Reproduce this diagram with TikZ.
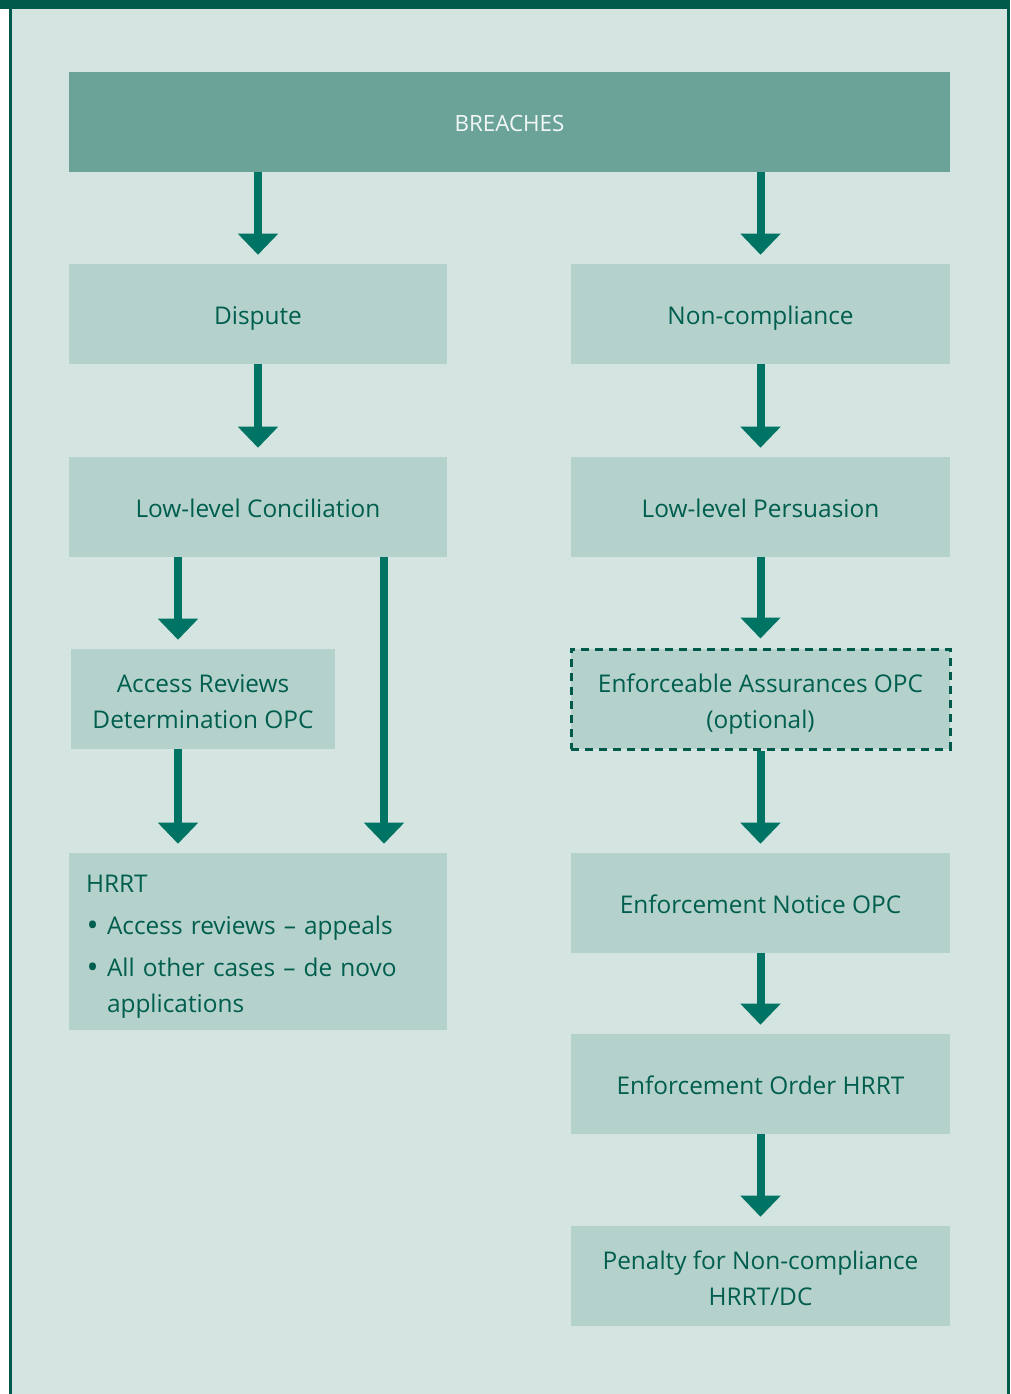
\documentclass[tikz,border=0pt]{standalone}
\usepackage{fontspec}
\setmainfont{Open Sans}
\usetikzlibrary{arrows.meta,positioning,calc}
\definecolor{panelgreen}{RGB}{212,228,224}
\definecolor{boxgreen}{RGB}{181,209,203}
\definecolor{headgreen}{RGB}{107,163,153}
\definecolor{arrowgreen}{RGB}{0,116,100}
\definecolor{textgreen}{RGB}{0,94,78}
\definecolor{framegreen}{RGB}{0,90,74}
\newcommand{\bulletrow}[1]{\makebox[15.75pt][l]{\hspace*{0.5pt}\raisebox{-1pt}{\fontsize{24}{27}\selectfont\textbullet}}#1}
\tikzset{
  stepbox/.style={fill=boxgreen,text=textgreen,minimum width=283.5pt,minimum height=75pt,
    inner sep=0pt,align=center,font=\fontsize{18.3}{27}\selectfont,text height=16pt,text depth=0pt},
  twoline/.style={text height=45.5pt,text depth=2pt},
  headbox/.style={stepbox,fill=headgreen,text=white!92!headgreen,minimum width=660.75pt,
    font=\fontsize{16.8}{27}\selectfont,text height=15pt},
  optbox/.style={draw=framegreen,line width=2.25pt,dash pattern=on 6pt off 4.5pt},
  flow/.style={draw=arrowgreen,line width=6pt,-{Triangle[width=29.25pt,length=15.75pt]},shorten >=6.75pt}
}

\begin{document}
\begin{tikzpicture}[x=0.75pt,y=-0.75pt]
% panel and frame
\fill[white] (0,0) rectangle (1010,1394);
\fill[panelgreen] (12,9) rectangle (1007,1394);
\fill[framegreen] (0,0) rectangle (1010,9);
\fill[framegreen] (9,9) rectangle (12,1394);
\fill[framegreen] (1007,9) rectangle (1010,1394);

% boxes
\node[headbox] (breaches) at (509.5,122) {BREACHES};
\node[stepbox] (dispute) at (258,314) {Dispute};
\node[stepbox,minimum width=284.25pt] (noncomp) at (760.5,314) {Non-compliance};
\node[stepbox] (concil) at (258,507) {Low-level Conciliation};
\node[stepbox,minimum width=284.25pt] (persua) at (760.5,507) {Low-level Persuasion};
\node[stepbox,twoline,minimum width=198pt] (access) at (203,699) {Access Reviews\\Determination OPC};
\node[stepbox,twoline,optbox,minimum width=284.25pt] (assur) at (760.5,699) {Enforceable Assurances OPC\\(optional)};
\node[stepbox,minimum height=132.75pt,align=left,inner xsep=12.75pt,text width=258pt,
  text height=20pt,text depth=93.2pt] (hrrt) at (258,941.5)
  {HRRT\\[4.5pt]\bulletrow{Access reviews – appeals}\\[4.5pt]\bulletrow{All other cases – de novo}\\\hspace*{15.75pt}applications};
\node[stepbox,minimum width=284.25pt] (notice) at (760.5,903) {Enforcement Notice OPC};
\node[stepbox,minimum width=284.25pt] (order) at (760.5,1084) {Enforcement Order HRRT};
\node[stepbox,twoline,minimum width=284.25pt] (penalty) at (760.5,1276) {Penalty for Non-compliance\\HRRT/DC};

% lanes under the conciliation box
\coordinate (leftlane) at (178,0);
\coordinate (rightlane) at (384,0);

% arrows
\draw[flow] (breaches.south -| dispute.north) -- (dispute.north);
\draw[flow] (breaches.south -| noncomp.north) -- (noncomp.north);
\draw[flow] (dispute) -- (concil);
\draw[flow] (noncomp) -- (persua);
\draw[flow] (concil.south -| leftlane) -- (access.north -| leftlane);
\draw[flow] (concil.south -| rightlane) -- (hrrt.north -| rightlane);
\draw[flow] (access.south -| leftlane) -- (hrrt.north -| leftlane);
\draw[flow] (persua) -- (assur);
\draw[flow] (assur) -- (notice);
\draw[flow] (notice) -- (order);
\draw[flow] (order) -- (penalty);
\end{tikzpicture}
\end{document}
